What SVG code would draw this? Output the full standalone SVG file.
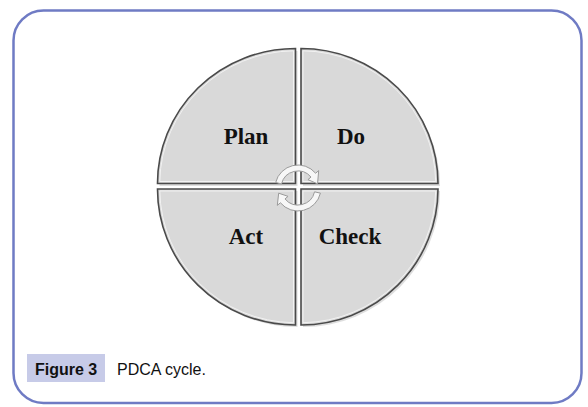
<svg xmlns="http://www.w3.org/2000/svg" width="588" height="407" viewBox="0 0 588 407">
<style>
.q{fill:#d9d9d9;stroke:#4a4a4a;stroke-width:1.6;}
.qi{fill:none;stroke:#f2f2f2;stroke-width:1;}
.sh{fill:#bdbdbd;opacity:0.5;}
.lbl{font-family:"Liberation Serif","Times New Roman",serif;font-weight:bold;font-size:23px;fill:#111;text-anchor:middle;}
.arr{fill:#f7f7f7;stroke:#9a9a9a;stroke-width:1;}
.cap{font-family:"Liberation Sans",Arial,sans-serif;font-size:16px;fill:#111;}
</style>
<rect x="13.5" y="10.5" width="568" height="392.5" rx="30" fill="#fff" stroke="#6f7bc4" stroke-width="2.5"/>
<g id="shadows">
<path class="sh" d="M297.5,186 H159.5 A138 135 0 0 1 297.5 51 Z"/>
<path class="sh" d="M303,186 V51 A137 135 0 0 1 440 186 Z"/>
<path class="sh" d="M297.5,191 H159.5 A138 136 0 0 0 297.5 327 Z"/>
<path class="sh" d="M303,191 H440 A137 136 0 0 1 303 327 Z"/>
</g>
<g id="plan">
<path class="q" d="M295.5,183.5 H157.5 A138 135 0 0 1 295.5 48.5 Z"/>
<path class="qi" d="M293.5,181.5 H159.8 A135.7 132.7 0 0 1 293.5 50.8 Z"/>
<text class="lbl" x="246" y="144">Plan</text>
</g>
<g id="do">
<path class="q" d="M301,183.5 V48.5 A137 135 0 0 1 438 183.5 Z"/>
<path class="qi" d="M303,181.5 V50.8 A134.7 132.7 0 0 1 435.7 181.5 Z"/>
<text class="lbl" x="351" y="144">Do</text>
</g>
<g id="act">
<path class="q" d="M295.5,189 H157.5 A138 136 0 0 0 295.5 325 Z"/>
<path class="qi" d="M293.5,191 H159.8 A135.7 133.7 0 0 0 293.5 322.7 Z"/>
<text class="lbl" x="246" y="244">Act</text>
</g>
<g id="check">
<path class="q" d="M301,189 H438 A137 136 0 0 1 301 325 Z"/>
<path class="qi" d="M303,191 H435.7 A134.7 133.7 0 0 1 303 322.7 Z"/>
<text class="lbl" x="350" y="244">Check</text>
</g>
<g id="connectors">
<path class="arr" d="M275.68,182.44 A23 23 0 0 1 315.62,173.22 L318.68,170.64 L317.56,183.84 L307.96,179.64 L311.02,177.07 A17 17 0 0 0 281.50,183.89 Z"/>
<path class="arr" d="M320.41,193.17 A23 23 0 0 1 280.38,202.78 L277.32,205.36 L278.68,193.18 L288.04,196.36 L284.98,198.93 A17 17 0 0 0 314.56,191.82 Z"/>
</g>
<g id="caption">
<rect x="27" y="354" width="78" height="28" fill="#c7cbe8"/>
<text class="cap" x="35" y="375" font-weight="bold">Figure 3</text>
<text class="cap" x="117" y="375">PDCA cycle.</text>
</g>
</svg>
